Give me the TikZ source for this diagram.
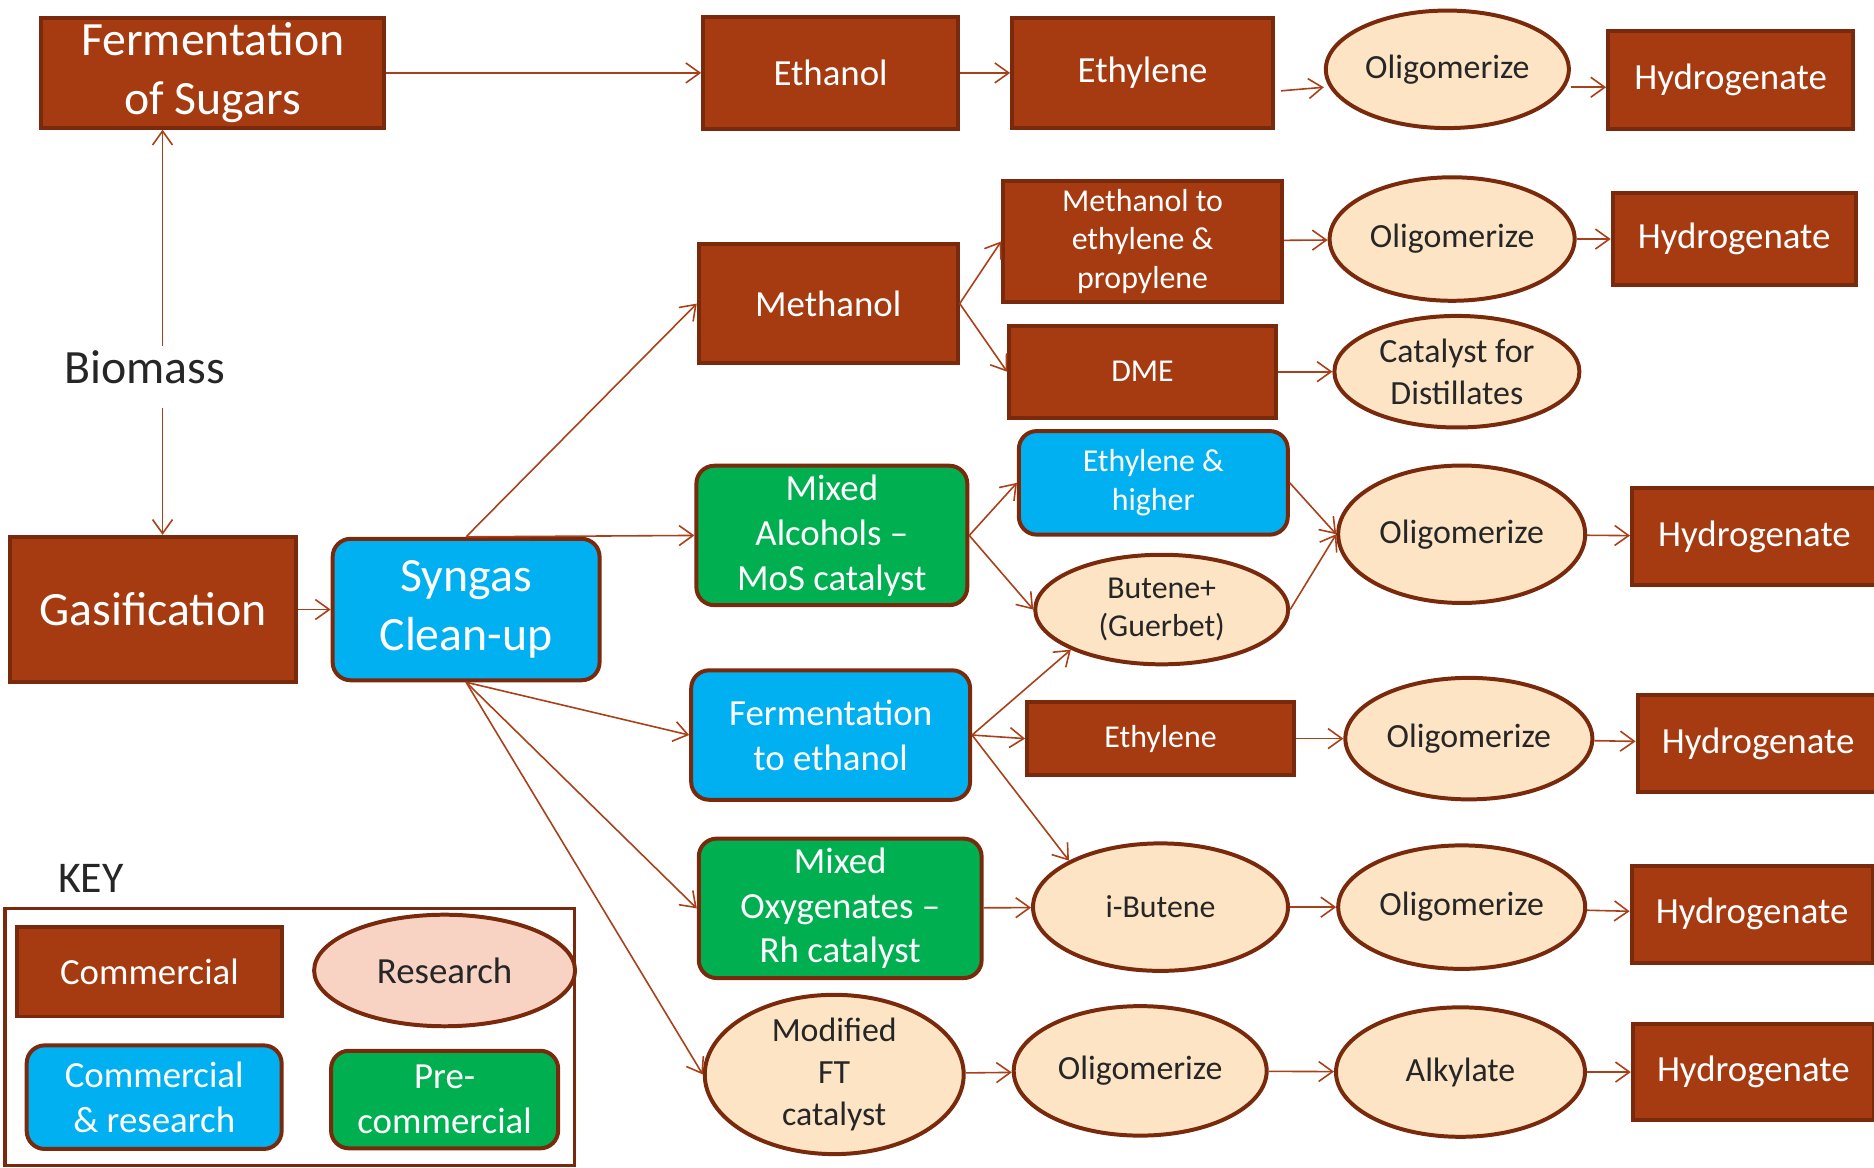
\documentclass[tikz,border=0pt]{standalone}
\usepackage{fontspec}
\setmainfont{Carlito}
\usepackage{tikz}
\usetikzlibrary{arrows.meta,positioning,shapes.geometric}

\definecolor{brn}{HTML}{A63A10}
\definecolor{brdr}{HTML}{7A2A0C}
\definecolor{arrc}{HTML}{A8401A}
\definecolor{cyanbox}{HTML}{00B0F0}
\definecolor{grn}{HTML}{00B050}
\definecolor{peach}{HTML}{FDE4C4}
\definecolor{pink}{HTML}{F8D3C3}
\definecolor{txt}{HTML}{262626}

\tikzset{
  txtL/.style={font=\fontsize{24}{29.5}\selectfont},
  txtM/.style={font=\fontsize{18.5}{22.5}\selectfont},
  txtO/.style={font=\fontsize{17}{21}\selectfont},
  txtS/.style={font=\fontsize{16}{19.5}\selectfont},
  comm/.style={draw=brdr,fill=brn,line width=2pt,text=white,align=center,inner sep=0pt},
  combo/.style={comm,fill=cyanbox,rounded corners=9pt},
  pre/.style={comm,fill=grn,rounded corners=9pt},
  res/.style={ellipse,draw=brdr,fill=peach,line width=2pt,text=txt,align=center,inner sep=0pt},
  arr/.style={draw=arrc,line width=0.8pt,-{Straight Barb[length=7pt,width=10pt]}},
}

\begin{document}
\begin{tikzpicture}[x=0.6pt,y=-0.6pt]
\useasboundingbox (0,0) rectangle (1568,977);

% top row: sugars route
\node[comm,txtL,minimum width=172pt,minimum height=55pt] (fos) at (178,61) {Fermentation\\of Sugars};
\node[comm,txtM,minimum width=128pt,minimum height=56pt] (ethanol) at (695,61) {Ethanol};
\node[comm,txtM,minimum width=131pt,minimum height=55pt] (ethyA) at (956,61) {Ethylene};
\node[res,txtO,minimum width=122pt,minimum height=59pt] (oliA) at (1211,58) {Oligomerize};
\node[comm,txtM,minimum width=123pt,minimum height=49pt] (hydA) at (1448,67) {Hydrogenate};

% methanol route
\node[comm,txtM,minimum width=130pt,minimum height=60pt] (meth) at (693,254) {Methanol};
\node[comm,txtS,minimum width=140pt,minimum height=61pt] (mto) at (956,202) {Methanol to\\ethylene \&\\propylene};
\node[res,txtO,minimum width=123pt,minimum height=62pt] (oliB) at (1215,200) {Oligomerize};
\node[comm,txtM,minimum width=122pt,minimum height=46pt] (hydB) at (1451,200) {Hydrogenate};
\node[comm,txtS,minimum width=134pt,minimum height=46pt] (dme) at (956,311) {DME};
\node[res,txtO,minimum width=123pt,minimum height=56pt] (cat) at (1219,311) {Catalyst for\\Distillates};

% feedstock and gasification
\node[txtL,text=txt,inner sep=2pt] (bio) at (121,307) {Biomass};
\node[comm,txtL,minimum width=144pt,minimum height=73pt] (gas) at (128,510) {Gasification};
\node[combo,txtL,minimum width=134pt,minimum height=71pt] (syn) at (390,510) {Syngas\\Clean-up};

% mixed alcohols route
\node[pre,txtM,minimum width=136pt,minimum height=70pt] (mixalc) at (696,448) {Mixed\\Alcohols --\\MoS catalyst};
\node[combo,txtS,minimum width=135pt,minimum height=52pt] (ethhi) at (965,404) {Ethylene \&\\higher};
\node[res,txtS,minimum width=127pt,minimum height=55pt] (butene) at (972,510) {Butene+\\(Guerbet)};
\node[res,txtO,minimum width=124pt,minimum height=69pt] (oliC) at (1223,447) {Oligomerize};
\node[comm,txtM,minimum width=123pt,minimum height=49pt] (hydC) at (1468,449) {Hydrogenate};

% fermentation to ethanol route
\node[combo,txtM,minimum width=140pt,minimum height=65pt] (fte) at (695,615) {Fermentation\\to ethanol};
\node[comm,txtS,minimum width=134pt,minimum height=37pt] (ethyC) at (971,618) {Ethylene};
\node[res,txtO,minimum width=124pt,minimum height=61pt] (oliD) at (1229,618) {Oligomerize};
\node[comm,txtM,minimum width=121pt,minimum height=49pt] (hydD) at (1471,622) {Hydrogenate};

% mixed oxygenates route
\node[pre,txtM,minimum width=142pt,minimum height=70pt] (mixoxy) at (703,760) {Mixed\\Oxygenates --\\Rh catalyst};
\node[res,txtS,minimum width=128pt,minimum height=64pt] (ibut) at (971,759) {i-Butene};
\node[res,txtO,minimum width=124pt,minimum height=62pt] (oliE) at (1223,759) {Oligomerize};
\node[comm,txtM,minimum width=121pt,minimum height=49pt] (hydE) at (1466,765) {Hydrogenate};

% modified FT route
\node[res,txtO,minimum width=130pt,minimum height=68pt] (modft) at (698,899) {Modified\\FT\\catalyst};
\node[res,txtO,minimum width=127pt,minimum height=65pt] (oliF) at (954,896) {Oligomerize};
\node[res,txtO,minimum width=125pt,minimum height=65pt] (alk) at (1222,897) {Alkylate};
\node[comm,txtM,minimum width=121pt,minimum height=48pt] (hydF) at (1467,897) {Hydrogenate};

% key
\node[txtL,text=txt,font=\fontsize{22}{26}\selectfont] (key) at (76,735) {KEY};
\node[draw=brdr,line width=1.6pt,minimum width=286pt,minimum height=129pt] (keybox) at (242.5,867.5) {};
\node[comm,txtM,minimum width=133pt,minimum height=45pt] (kcomm) at (125,813) {Commercial};
\node[res,txtM,fill=pink,minimum width=131pt,minimum height=56pt] (kres) at (372,812) {Research};
\node[combo,txtM,minimum width=128pt,minimum height=52pt] (kcr) at (129,918) {Commercial\\\& research};
\node[pre,txtM,minimum width=114pt,minimum height=49pt] (kpre) at (372,920) {Pre-\\commercial};

% connectors
\draw[arr] ([xshift=9pt]bio.north) -- ([xshift=9pt]bio.north |- fos.south);
\draw[arr] ([shift={(9pt,-10pt)}]bio.south) -- ([xshift=9pt]bio.south |- gas.north);
\draw[arr] (fos.east) -- (ethanol.west);
\draw[arr] (ethanol) -- (ethyA);
\draw[arr] ([shift={(3pt,-9pt)}]ethyA.east) -- ([yshift=-9pt]oliA.west);
\draw[arr] ([yshift=-9pt]oliA.east) -- ([yshift=-9pt]oliA.east -| hydA.west);
\draw[arr] (gas) -- (syn);
\draw[arr] (syn.north) -- (meth.west);
\draw[arr] (syn.north) -- (mixalc.west);
\draw[arr] (syn.south) -- (fte.west);
\draw[arr] (syn.south) -- (mixoxy.west);
\draw[arr] (syn.south) -- (modft.west);
\draw[arr] (meth.east) -- (mto.west);
\draw[arr] (meth.east) -- (dme.west);
\draw[arr] (mto) -- (oliB);
\draw[arr] (oliB) -- (hydB);
\draw[arr] (dme) -- (cat);
\draw[arr] (mixalc.east) -- (ethhi.west);
\draw[arr] (mixalc.east) -- (butene.west);
\draw[arr] (ethhi.east) -- (oliC.west);
\draw[arr] (butene.east) -- (oliC.west);
\draw[arr] (oliC) -- (hydC);
\draw[arr] (fte.east) -- (butene.south west);
\draw[arr] (fte.east) -- (ethyC.west);
\draw[arr] (fte.east) -- (ibut.north west);
\draw[arr] (ethyC) -- (oliD);
\draw[arr] (oliD) -- (hydD);
\draw[arr] (mixoxy) -- (ibut);
\draw[arr] (ibut) -- (oliE);
\draw[arr] (oliE) -- (hydE);
\draw[arr] (modft) -- (oliF);
\draw[arr] (oliF) -- (alk);
\draw[arr] (alk) -- (hydF);
\end{tikzpicture}
\end{document}
